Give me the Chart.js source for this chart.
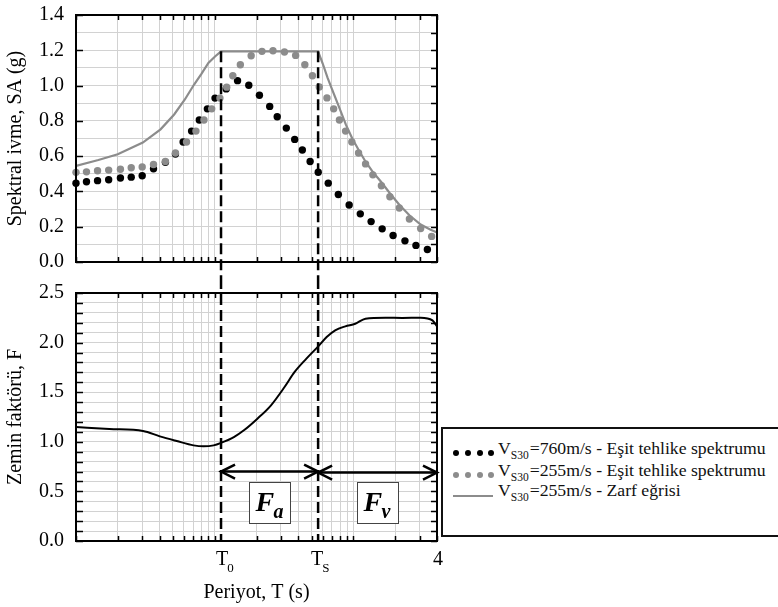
<!DOCTYPE html>
<html>
<head>
<meta charset="utf-8">
<script src="https://cdn.jsdelivr.net/npm/chart.js@4.4.1/dist/chart.umd.min.js"></script>
<style>
  html, body { margin: 0; padding: 0; background: #fff; }
  #wrap { position: relative; width: 778px; height: 607px; overflow: hidden; font-family: "Liberation Serif", "Times New Roman", serif; }
  #topChart { position: absolute; left: 0; top: 0; }
  #botChart { position: absolute; left: 0; top: 278px; }
  #legend { position: absolute; left: 441px; top: 427px; width: 360px; height: 110px; border: 2px solid #111; box-sizing: border-box; background: #fff; }
  .row { position: absolute; left: 0; height: 21px; line-height: 21px; font-size: 17.7px; color: #111; white-space: nowrap; width: 100%; }
  .row .txt { position: absolute; left: 55px; top: 0; }
  .row sub { font-size: 11.5px; vertical-align: baseline; position: relative; top: 5px; margin-right: 1px; }
  .dot { position: absolute; top: 12px; width: 6px; height: 6px; border-radius: 50%; }
  .dot.k { background: #000; }
  .dot.g { background: #8c8c8c; }
  .ln { position: absolute; left: 10px; top: 15px; width: 40px; height: 2px; background: #8c8c8c; }
</style>
</head>
<body>
<div id="wrap">
  <canvas id="topChart" width="445" height="278"></canvas>
  <canvas id="botChart" width="445" height="329"></canvas>
  <div id="legend">
    <div class="row" style="top:9px">
      <span class="dot k" style="left:10px"></span><span class="dot k" style="left:22px"></span><span class="dot k" style="left:34px"></span><span class="dot k" style="left:45px"></span>
      <span class="txt">V<sub>S30</sub>=760m/s - Eşit tehlike spektrumu</span>
    </div>
    <div class="row" style="top:31px">
      <span class="dot g" style="left:10px"></span><span class="dot g" style="left:22px"></span><span class="dot g" style="left:34px"></span><span class="dot g" style="left:45px"></span>
      <span class="txt">V<sub>S30</sub>=255m/s - Eşit tehlike spektrumu</span>
    </div>
    <div class="row" style="top:51px">
      <span class="ln"></span>
      <span class="txt">V<sub>S30</sub>=255m/s - Zarf eğrisi</span>
    </div>
  </div>
</div>
<script>
// Periods (s) used for the vertical grid of the log axis
const periodGrid = [0.01, 0.02, 0.03, 0.04, 0.05, 0.06, 0.07, 0.08, 0.09,
  0.1, 0.2, 0.3, 0.4, 0.5, 0.6, 0.7, 0.8, 0.9, 1, 2, 3, 4];

// Corner periods
const T0 = 0.111;
const TS = 0.556;

// Vs30 = 760 m/s uniform hazard spectrum
const periodRock = [0.0100, 0.0119, 0.0143, 0.0172, 0.0209, 0.0250, 0.0300, 0.0362, 0.0441, 0.0521,
  0.0592, 0.0681, 0.0774, 0.0885, 0.1005, 0.121, 0.146, 0.176, 0.210, 0.249,
  0.282, 0.328, 0.377, 0.428, 0.487, 0.557, 0.658, 0.778, 0.931, 1.12,
  1.34, 1.61, 1.93, 2.35, 2.82, 3.41];
const saRock = [0.447, 0.455, 0.461, 0.466, 0.476, 0.481, 0.489, 0.528, 0.565, 0.612,
  0.680, 0.742, 0.805, 0.868, 0.929, 0.981, 1.028, 1.002, 0.945, 0.882,
  0.823, 0.759, 0.695, 0.635, 0.570, 0.509, 0.447, 0.383, 0.323, 0.273,
  0.229, 0.188, 0.150, 0.120, 0.094, 0.071];

// Vs30 = 255 m/s uniform hazard spectrum
const periodSoil = [0.0100, 0.0119, 0.0143, 0.0172, 0.0209, 0.0250, 0.0300, 0.0362, 0.0441, 0.0521,
  0.0626, 0.0732, 0.0836, 0.0951, 0.109, 0.122, 0.135, 0.153, 0.183, 0.219,
  0.263, 0.318, 0.383, 0.446, 0.506, 0.567, 0.644, 0.720, 0.792, 0.877,
  0.973, 1.088, 1.222, 1.38, 1.59, 1.83, 2.14, 2.53, 3.05, 3.66];
const saSoil = [0.508, 0.511, 0.517, 0.521, 0.526, 0.534, 0.539, 0.553, 0.570, 0.618,
  0.680, 0.742, 0.805, 0.868, 0.929, 0.991, 1.056, 1.118, 1.169, 1.194,
  1.197, 1.190, 1.171, 1.118, 1.056, 0.992, 0.930, 0.868, 0.805, 0.742,
  0.680, 0.618, 0.556, 0.494, 0.432, 0.370, 0.306, 0.244, 0.190, 0.145];

// Vs30 = 255 m/s envelope curve
const periodEnv = [0.0100, 0.0145, 0.0200, 0.0303, 0.0407, 0.0510, 0.0609, 0.0710, 0.0804, 0.0900,
  0.1005, 0.111, 0.556, 0.60, 0.65, 0.70, 0.79, 0.88, 0.98, 1.09,
  1.22, 1.38, 1.59, 1.83, 2.14, 2.53, 3.05, 3.6, 4.0];
const saEnv = [0.545, 0.578, 0.611, 0.677, 0.752, 0.836, 0.921, 1.006, 1.068, 1.128,
  1.165, 1.194, 1.194, 1.125, 1.045, 0.980, 0.875, 0.780, 0.700, 0.635,
  0.570, 0.510, 0.452, 0.390, 0.325, 0.265, 0.212, 0.183, 0.168];

// Site factor F = SA(255) / SA(760)
const periodF = [0.0100, 0.0174, 0.0304, 0.0402, 0.0532, 0.0703, 0.083, 0.0982, 0.1118, 0.1374,
  0.1623, 0.203, 0.2545, 0.3185, 0.3767, 0.4578, 0.5572, 0.641, 0.738, 0.873,
  1.03, 1.22, 1.70, 2.25, 3.05, 3.71, 4.0];
const factorF = [1.149, 1.129, 1.109, 1.055, 1.008, 0.964, 0.954, 0.964, 0.991, 1.048,
  1.116, 1.233, 1.368, 1.552, 1.704, 1.838, 1.962, 2.056, 2.124, 2.164,
  2.19, 2.241, 2.251, 2.248, 2.251, 2.224, 2.164];

// Fa / Fv range arrows
const arrowFaY = 0.70;
const arrowFvY = 0.69;

const SERIF = '"Liberation Serif", "Times New Roman", serif';
const GRID = '#d2d2d2';
const GRAY = '#8c8c8c';

const pts = (xs, ys) => xs.map((x, i) => ({ x, y: ys[i] }));

// inward ticks + black frame around the plot area
const framePlugin = {
  id: 'frame',
  afterDraw(chart, args, opts) {
    const { ctx, chartArea: a } = chart;
    const xs = chart.scales.x, ys = chart.scales.y;
    ctx.save();
    ctx.strokeStyle = '#000';
    ctx.lineWidth = 1.5;
    ctx.beginPath();
    xs.ticks.forEach(t => {
      const px = Math.round(xs.getPixelForValue(t.value)) + 0.5;
      ctx.moveTo(px, a.bottom); ctx.lineTo(px, a.bottom - 5);
      ctx.moveTo(px, a.top); ctx.lineTo(px, a.top + 5);
    });
    ys.ticks.forEach(t => {
      const py = Math.round(ys.getPixelForValue(t.value)) + 0.5;
      if (!opts.leftLabeledOnly || t.label !== '') {
        ctx.moveTo(a.left, py); ctx.lineTo(a.left + 7, py);
      }
      ctx.moveTo(a.right, py); ctx.lineTo(a.right - 6, py);
    });
    ctx.stroke();
    ctx.lineWidth = 2;
    ctx.strokeRect(a.left, a.top, a.right - a.left, a.bottom - a.top);
    ctx.restore();
  }
};

function dashedAt(ctx, x, y1, y2) {
  ctx.save();
  ctx.strokeStyle = '#000';
  ctx.lineWidth = 2.5;
  ctx.setLineDash([11, 5]);
  ctx.beginPath();
  ctx.moveTo(x, y1);
  ctx.lineTo(x, y2);
  ctx.stroke();
  ctx.restore();
}

// T0 / TS markers in the spectrum panel, from the plateau down
const topMarks = {
  id: 'topMarks',
  afterDatasetsDraw(chart) {
    const { ctx, scales: { x, y } } = chart;
    const top = y.getPixelForValue(Math.max(...saEnv));
    [T0, TS].forEach(t => dashedAt(ctx, x.getPixelForValue(t), top, chart.height));
  }
};

function arrowHead(ctx, x, y, dir) {
  ctx.beginPath();
  ctx.moveTo(x - dir * 14, y - 7);
  ctx.lineTo(x, y);
  ctx.lineTo(x - dir * 14, y + 7);
  ctx.stroke();
}

function rangeArrow(ctx, x1, x2, y) {
  ctx.save();
  ctx.strokeStyle = '#000';
  ctx.lineWidth = 2.5;
  ctx.beginPath();
  ctx.moveTo(x1, y);
  ctx.lineTo(x2, y);
  ctx.stroke();
  arrowHead(ctx, x1, y, -1);
  arrowHead(ctx, x2, y, 1);
  ctx.restore();
}

function factorBox(ctx, cx, cy, sub) {
  const w = 41, h = 41;
  const left = Math.round(cx - w / 2) + 0.5, top = Math.round(cy - h / 2) + 0.5;
  ctx.save();
  ctx.fillStyle = '#fff';
  ctx.fillRect(left, top, w, h);
  ctx.strokeStyle = '#444';
  ctx.lineWidth = 1;
  ctx.strokeRect(left, top, w, h);
  ctx.fillStyle = '#000';
  ctx.textAlign = 'left';
  ctx.textBaseline = 'alphabetic';
  ctx.font = 'italic bold 28px ' + SERIF;
  ctx.fillText('F', left + 6, top + 28);
  ctx.font = 'italic bold 20px ' + SERIF;
  ctx.fillText(sub, left + 24, top + 35);
  ctx.restore();
}

function subLabel(ctx, x, y, main, sub) {
  ctx.font = '20px ' + SERIF;
  const w = ctx.measureText(main).width;
  ctx.fillText(main, x - w / 2, y);
  if (sub) {
    ctx.font = '13px ' + SERIF;
    ctx.fillText(sub, x + w / 2 - 1, y + 7);
  }
}

// T0 / TS markers, Fa and Fv ranges and period labels in the factor panel
const botMarks = {
  id: 'botMarks',
  afterDatasetsDraw(chart) {
    const { ctx, scales: { x, y } } = chart;
    const x0 = x.getPixelForValue(T0), xs = x.getPixelForValue(TS), xe = x.getPixelForValue(x.max);
    [x0, xs].forEach(px => dashedAt(ctx, px, 0, y.getPixelForValue(0)));
    rangeArrow(ctx, x0, xs, y.getPixelForValue(arrowFaY));
    rangeArrow(ctx, xs, xe, y.getPixelForValue(arrowFvY));
    const boxY = y.getPixelForValue(0.39);
    factorBox(ctx, (x0 + xs) / 2, boxY, 'a');
    factorBox(ctx, (xs + xe) / 2, boxY, 'v');
  },
  afterDraw(chart) {
    const { ctx, chartArea: a, scales: { x } } = chart;
    ctx.save();
    ctx.fillStyle = '#000';
    ctx.textAlign = 'left';
    ctx.textBaseline = 'alphabetic';
    const base = a.bottom + 24;
    subLabel(ctx, x.getPixelForValue(T0) + 1, base, 'T', '0');
    subLabel(ctx, x.getPixelForValue(TS) - 1, base, 'T', 'S');
    subLabel(ctx, x.getPixelForValue(4) + 1, base, '4');
    ctx.restore();
  }
};

// no extra room for the first/last tick labels: the plot area follows layout.padding
function noEdgePadding(s) {
  s.paddingTop = 0;
  s.paddingBottom = 0;
  s.paddingLeft = 0;
  s.paddingRight = 0;
}

function xAxis(height, title) {
  return {
    type: 'logarithmic',
    min: 0.01,
    max: 4,
    afterBuildTicks: s => { s.ticks = periodGrid.map(v => ({ value: v })); },
    afterFit: s => { s.height = height; noEdgePadding(s); },
    ticks: { display: false, autoSkip: false },
    grid: { color: GRID, lineWidth: 1, drawTicks: false },
    border: { display: false },
    title: title ? {
      display: true, text: title, color: '#000',
      font: { family: SERIF, size: 20 }, padding: { top: 0, bottom: 2 }
    } : { display: false }
  };
}

function yAxis(max, labelEvery, title) {
  return {
    min: 0,
    max: max,
    afterFit: s => { s.width = 76; noEdgePadding(s); },
    ticks: {
      stepSize: 0.1,
      autoSkip: false,
      padding: 12,
      color: '#000',
      font: { family: SERIF, size: 20 },
      callback: v => (Math.round(v * 10) % labelEvery === 0 ? v.toFixed(1) : '')
    },
    grid: { color: GRID, lineWidth: 1, drawTicks: false },
    border: { display: false },
    title: {
      display: true, text: title, color: '#000',
      font: { family: SERIF, size: 20 }, padding: { top: 4, bottom: 0 }
    }
  };
}

new Chart(document.getElementById('topChart'), {
  type: 'scatter',
  data: {
    datasets: [
      {
        label: 'VS30=255m/s - Zarf eğrisi',
        data: pts(periodEnv, saEnv),
        showLine: true,
        borderColor: GRAY,
        borderWidth: 2.2,
        pointRadius: 0,
        order: 1
      },
      {
        label: 'VS30=255m/s - Eşit tehlike spektrumu',
        data: pts(periodSoil, saSoil),
        backgroundColor: GRAY,
        borderWidth: 0,
        pointRadius: 3.7,
        clip: false,
        order: 2
      },
      {
        label: 'VS30=760m/s - Eşit tehlike spektrumu',
        data: pts(periodRock, saRock),
        backgroundColor: '#000',
        borderWidth: 0,
        pointRadius: 3.7,
        clip: false,
        order: 3
      }
    ]
  },
  options: {
    responsive: false,
    animation: false,
    events: [],
    layout: { padding: { top: 15, right: 8, bottom: 16, left: 0 } },
    scales: {
      x: xAxis(0),
      y: yAxis(1.4, 2, 'Spektral ivme, SA (g)')
    },
    plugins: {
      legend: { display: false },
      tooltip: { enabled: false },
      frame: { leftLabeledOnly: true }
    }
  },
  plugins: [topMarks, framePlugin]
});

new Chart(document.getElementById('botChart'), {
  type: 'scatter',
  data: {
    datasets: [
      {
        label: 'F',
        data: pts(periodF, factorF),
        showLine: true,
        borderColor: '#000',
        borderWidth: 2,
        pointRadius: 0,
        cubicInterpolationMode: 'monotone'
      }
    ]
  },
  options: {
    responsive: false,
    animation: false,
    events: [],
    layout: { padding: { top: 15, right: 8, bottom: 0, left: 0 } },
    scales: {
      x: xAxis(66, 'Periyot, T (s)'),
      y: yAxis(2.5, 5, 'Zemin faktörü, F')
    },
    plugins: {
      legend: { display: false },
      tooltip: { enabled: false },
      frame: { leftLabeledOnly: false }
    }
  },
  plugins: [botMarks, framePlugin]
});
</script>
</body>
</html>
